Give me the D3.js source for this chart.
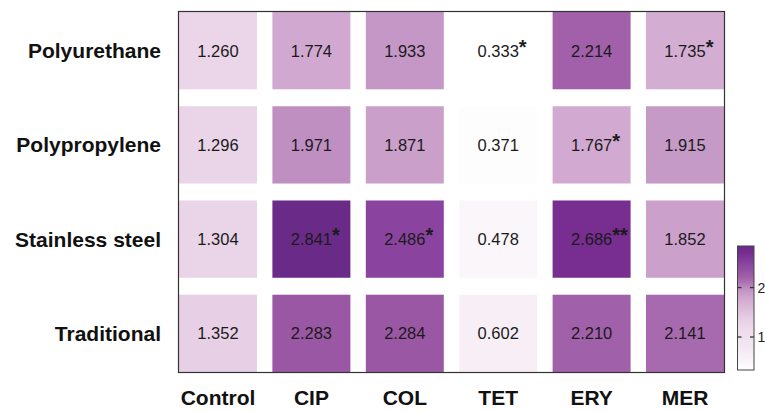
<!DOCTYPE html>
<html>
<head>
<meta charset="utf-8">
<script src="https://cdn.jsdelivr.net/npm/d3@7/dist/d3.min.js"></script>
<style>
html,body{margin:0;padding:0;background:#fff;}
svg{display:block;font-family:"Liberation Sans",Arial,Helvetica,sans-serif;}
</style>
</head>
<body>
<svg id="chart" width="765" height="412"></svg>
<script>
const columns = ["Control", "CIP", "COL", "TET", "ERY", "MER"];
const rows = ["Polyurethane", "Polypropylene", "Stainless steel", "Traditional"];
const polyurethane   = [1.260, 1.774, 1.933, 0.333, 2.214, 1.735];
const polypropylene  = [1.296, 1.971, 1.871, 0.371, 1.767, 1.915];
const stainlessSteel = [1.304, 2.841, 2.486, 0.478, 2.686, 1.852];
const traditional    = [1.352, 2.283, 2.284, 0.602, 2.210, 2.141];
const sigPolyurethane   = ["", "", "", "*", "", "*"];
const sigPolypropylene  = ["", "", "", "", "*", ""];
const sigStainlessSteel = ["", "*", "*", "", "**", ""];
const sigTraditional    = ["", "", "", "", "", ""];
const legendTicks = [1, 2];

const values = [polyurethane, polypropylene, stainlessSteel, traditional];
const sigs = [sigPolyurethane, sigPolypropylene, sigStainlessSteel, sigTraditional];

const cells = [];
rows.forEach((r, i) => columns.forEach((c, j) => {
  cells.push({row: r, col: c, value: values[i][j], sig: sigs[i][j]});
}));

const allVals = cells.map(d => d.value);
const vmin = d3.min(allVals), vmax = d3.max(allVals);

// colour ramp (style)
const stopVals = [0.333, 0.6, 1.3, 1.75, 1.93, 2.14, 2.28, 2.49, 2.69, 2.841];
const stopCols = ["#FFFFFF", "#F8EFF6", "#EAD5E8", "#D3ACD2", "#C598C6", "#A86AAF", "#9A58A4", "#8A44A0", "#782D90", "#6A2A88"];
const color = d3.scaleLinear().domain(stopVals).range(stopCols).interpolate(d3.interpolateRgb).clamp(true);

const svg = d3.select("#chart");

const x = d3.scaleBand().domain(columns).range([179, 724]).paddingInner(0.165).paddingOuter(0);
const y = d3.scaleBand().domain(rows).range([12, 372]).paddingInner(0.18).paddingOuter(0);

// tiles
svg.append("g").selectAll("rect").data(cells).join("rect")
  .attr("x", d => x(d.col))
  .attr("y", d => y(d.row))
  .attr("width", x.bandwidth())
  .attr("height", y.bandwidth())
  .attr("fill", d => color(d.value));

// labels
const lab = svg.append("g").selectAll("g").data(cells).join("g");
lab.each(function(d) {
  const g = d3.select(this);
  const cx = x(d.col) + x.bandwidth() / 2;
  const cy = y(d.row) + y.bandwidth() / 2;
  const t = g.append("text")
    .attr("x", cx).attr("y", cy + 6)
    .attr("text-anchor", "middle")
    .attr("font-size", 16.5)
    .attr("fill", "#1a1a1a")
    .text(d3.format(".3f")(d.value));
  if (d.sig) {
    const w = t.node().getComputedTextLength();
    g.append("text")
      .attr("x", cx + w / 2).attr("y", cy + 6 - 3)
      .attr("font-size", 20)
      .attr("font-weight", "bold")
      .attr("fill", "#1a1a1a")
      .text(d.sig);
  }
});

// panel border
svg.append("rect")
  .attr("x", 178.5).attr("y", 11.5)
  .attr("width", 546).attr("height", 361)
  .attr("fill", "none").attr("stroke", "#333").attr("stroke-width", 1.2);

// axis labels
svg.append("g").selectAll("text").data(rows).join("text")
  .attr("x", 161)
  .attr("y", d => y(d) + y.bandwidth() / 2 + 7.5)
  .attr("text-anchor", "end")
  .attr("font-size", 21).attr("font-weight", "bold").attr("fill", "#111")
  .text(d => d);

svg.append("g").selectAll("text").data(columns).join("text")
  .attr("x", d => x(d) + x.bandwidth() / 2)
  .attr("y", 405)
  .attr("text-anchor", "middle")
  .attr("font-size", 21).attr("font-weight", "bold").attr("fill", "#111")
  .text(d => d);

// legend colourbar
const ly = d3.scaleLinear().domain([vmin, vmax]).range([370, 246]);
const defs = svg.append("defs");
const grad = defs.append("linearGradient").attr("id", "lg")
  .attr("x1", 0).attr("y1", 1).attr("x2", 0).attr("y2", 0);
d3.range(0, 1.0001, 0.05).forEach(t => {
  grad.append("stop").attr("offset", t).attr("stop-color", color(vmin + t * (vmax - vmin)));
});
const bx = 737.5, bw = 16.5;
svg.append("rect")
  .attr("x", bx).attr("y", ly(vmax))
  .attr("width", bw).attr("height", ly(vmin) - ly(vmax))
  .attr("fill", "url(#lg)");
const lt = svg.append("g").selectAll("g").data(legendTicks).join("g");
lt.append("line").attr("x1", bx).attr("x2", bx + 4)
  .attr("y1", d => ly(d)).attr("y2", d => ly(d))
  .attr("stroke", "#333").attr("stroke-width", 1.3);
lt.append("line").attr("x1", bx + bw - 4).attr("x2", bx + bw)
  .attr("y1", d => ly(d)).attr("y2", d => ly(d))
  .attr("stroke", "#333").attr("stroke-width", 1.3);
lt.append("text").attr("x", bx + bw + 3.5).attr("y", d => ly(d) + 5)
  .attr("font-size", 14).attr("fill", "#222")
  .text(d => d);
svg.append("rect")
  .attr("x", bx).attr("y", ly(vmax))
  .attr("width", bw).attr("height", ly(vmin) - ly(vmax))
  .attr("fill", "none").attr("stroke", "#444").attr("stroke-width", 1);
</script>
</body>
</html>
